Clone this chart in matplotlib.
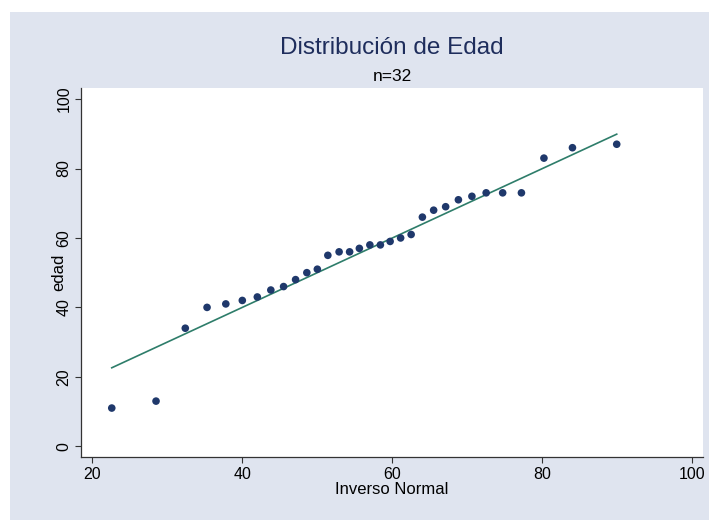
import matplotlib
matplotlib.use('Agg')
import matplotlib.pyplot as plt
from matplotlib.patches import Rectangle

# quantiles of edad vs inverse normal
inv_normal = [22.6, 28.5, 32.4, 35.3, 37.8, 40.0, 42.0, 43.8, 45.5, 47.1,
              48.6, 50.0, 51.4, 52.9, 54.3, 55.6, 57.0, 58.4, 59.7, 61.1,
              62.5, 64.0, 65.5, 67.1, 68.8, 70.6, 72.5, 74.7, 77.2, 80.2,
              84.0, 89.9]
edad = [11, 13, 34, 40, 41, 42, 43, 45, 46, 48, 50, 51, 55, 56, 56, 57,
        58, 58, 59, 60, 61, 66, 68, 69, 71, 72, 73, 73, 73, 83, 86, 87]
x_ticks = [20, 40, 60, 80, 100]
y_ticks = [0, 20, 40, 60, 80, 100]

plt.rcParams['font.family'] = ['Liberation Sans', 'DejaVu Sans']

bg = '#DFE4EF'
navy = '#1F386B'
green = '#2E7D6A'

fig = plt.figure(figsize=(7.09, 5.20), dpi=100)
fig.patch.set_facecolor('white')
fig.patches.append(Rectangle((10 / 709, 0), 1, 1 - 12 / 520,
                             transform=fig.transFigure, facecolor=bg,
                             linewidth=0, zorder=-10))

ax = fig.add_axes([81 / 709, 1 - 457 / 520, 622 / 709, 369 / 520])
ax.set_facecolor('white')

# reference line y = x over the range of the data
ax.plot([min(inv_normal), max(inv_normal)], [min(inv_normal), max(inv_normal)],
        color=green, linewidth=1.2, zorder=2)
ax.scatter(inv_normal, edad, s=30, color=navy, edgecolors='none', zorder=3)

ax.set_xlim(18.5, 101.4)
ax.set_ylim(-3.1, 103.2)
ax.set_xticks(x_ticks)
ax.set_yticks(y_ticks)
ax.tick_params(direction='out', length=4, width=0.8, color='#333333',
               labelsize=11.5, pad=3)
for lab in ax.get_yticklabels():
    lab.set_rotation(90)
    lab.set_va('center')

for s in ['top', 'right']:
    ax.spines[s].set_visible(False)
for s in ['left', 'bottom']:
    ax.spines[s].set_color('#333333')
    ax.spines[s].set_linewidth(0.9)

ax.set_xlabel('Inverso Normal', fontsize=12, labelpad=0)
ax.set_ylabel('edad', fontsize=12)
ax.yaxis.set_label_coords(-0.024, 0.5)

fig.text(392 / 709, 1 - 54 / 520, 'Distribución de Edad', fontsize=17.5,
         color='#1E2D5C', ha='center', va='baseline')
fig.text(392 / 709, 1 - 81 / 520, 'n=32', fontsize=12.5, color='black',
         ha='center', va='baseline')

fig.savefig('out.png', dpi=100)
